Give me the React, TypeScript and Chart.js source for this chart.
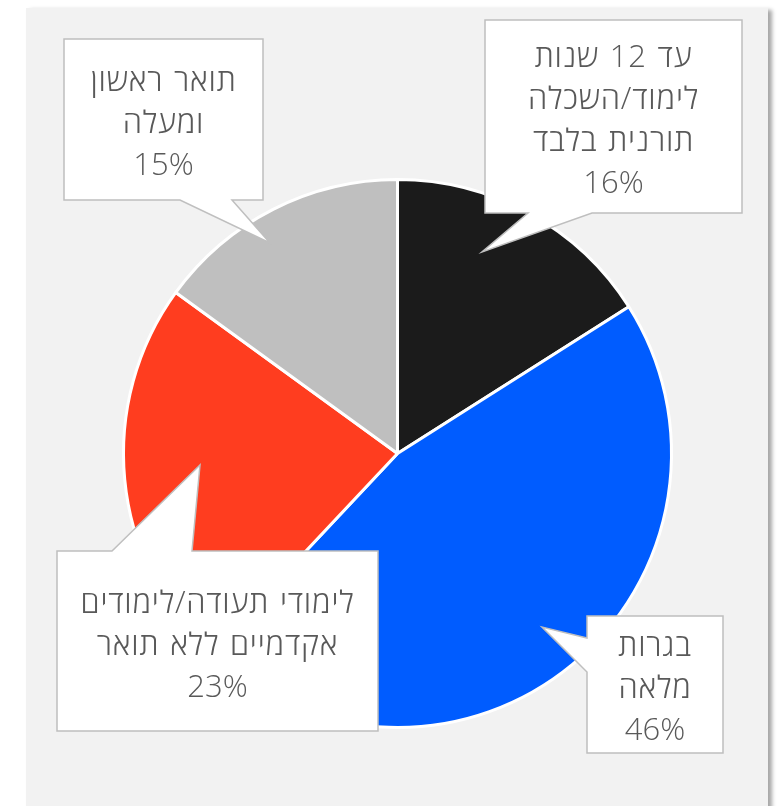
import React, { useEffect, useRef } from "react";
import { Chart, registerables } from "chart.js";

Chart.register(...registerables);

// ---- data ----
const categories: string[][] = [
  ["עד 12 שנות", "לימוד/השכלה", "תורנית בלבד"],
  ["בגרות", "מלאה"],
  ["לימודי תעודה/לימודים", "אקדמיים ללא תואר"],
  ["תואר ראשון", "ומעלה"],
];
const shares: number[] = [16, 46, 23, 15];
const sliceColors: string[] = ["#1b1b1b", "#005cff", "#ff3d1f", "#bfbfbf"];

// ---- callout layout (annotation boxes, pixel positions) ----
type Callout = { box: [number, number, number, number]; outline: [number, number][] };
const callouts: Callout[] = [
  {
    box: [485, 20, 742, 213],
    outline: [[485, 20], [742, 20], [742, 213], [592, 213], [482, 252], [528, 213], [485, 213]],
  },
  {
    box: [587, 616, 723, 753],
    outline: [[587, 616], [723, 616], [723, 753], [587, 753], [587, 672], [542, 627], [587, 638]],
  },
  {
    box: [57, 551, 378, 731],
    outline: [[57, 551], [112, 551], [200, 465], [192, 551], [378, 551], [378, 731], [57, 731]],
  },
  {
    box: [64, 39, 263, 200],
    outline: [[64, 39], [263, 39], [263, 200], [232, 200], [270, 243], [180, 200], [64, 200]],
  },
];

const calloutPlugin = {
  id: "callouts",
  afterDatasetsDraw(chart: any) {
    const ctx: CanvasRenderingContext2D = chart.ctx;
    const data = chart.data.datasets[0].data as number[];
    ctx.save();
    callouts.forEach((c, i) => {
      ctx.beginPath();
      c.outline.forEach(([x, y], k) => (k === 0 ? ctx.moveTo(x, y) : ctx.lineTo(x, y)));
      ctx.closePath();
      ctx.fillStyle = "#ffffff";
      ctx.fill();
      ctx.lineWidth = 1.5;
      ctx.strokeStyle = "#bfbfbf";
      ctx.lineJoin = "miter";
      ctx.stroke();

      const lines = [...categories[i], `${data[i]}%`];
      const [x0, y0, x1, y1] = c.box;
      const cx = (x0 + x1) / 2;
      const cy = (y0 + y1) / 2 + 5;
      const lh = 42;
      ctx.fillStyle = "#595959";
      ctx.font = '300 31px "Open Sans", "DejaVu Sans", sans-serif';
      ctx.textAlign = "center";
      ctx.textBaseline = "middle";
      (ctx as any).direction = "rtl";
      lines.forEach((t, k) => {
        const isNum = k === lines.length - 1;
        (ctx as any).letterSpacing = isNum ? "0px" : "0.8px";
        (ctx as any).wordSpacing = isNum ? "0px" : "2px";
        ctx.fillText(t, cx, cy + (k - (lines.length - 1) / 2) * lh);
      });
    });
    ctx.restore();
  },
};

export default function App() {
  const ref = useRef<HTMLCanvasElement | null>(null);
  useEffect(() => {
    if (!ref.current) return;
    const chart = new Chart(ref.current, {
      type: "pie",
      data: {
        labels: categories.map((l) => l.join(" ")),
        datasets: [
          {
            data: shares,
            backgroundColor: sliceColors,
            borderColor: "#ffffff",
            borderWidth: 3,
            hoverOffset: 0,
          },
        ],
      },
      options: {
        responsive: false,
        animation: false,
        layout: { padding: { left: 122, top: 178, right: 109, bottom: 77 } },
        plugins: { legend: { display: false }, tooltip: { enabled: false } },
      },
      plugins: [calloutPlugin],
    });
    return () => chart.destroy();
  }, []);

  return (
    <div style={{ position: "fixed", left: 0, top: 0, width: 782, height: 806, background: "#ffffff", overflow: "hidden" }}>
      <div
        style={{
          position: "absolute",
          left: 26,
          top: 8,
          width: 742,
          height: 820,
          background: "#f2f2f2",
          boxShadow: "4px 2px 4px rgba(0,0,0,0.35)",
        }}
      />
      <canvas ref={ref} width={782} height={806} style={{ position: "absolute", left: 0, top: 0 }} />
    </div>
  );
}
